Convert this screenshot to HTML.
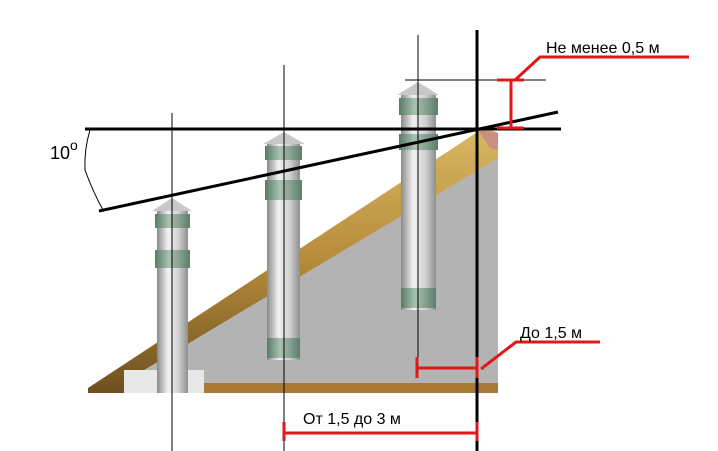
<!DOCTYPE html>
<html><head><meta charset="utf-8"><style>
html,body{margin:0;padding:0;background:#fff;}
svg{display:block;}
text{font-family:"Liberation Sans",sans-serif;fill:#000;}
</style></head><body>
<svg width="718" height="451" viewBox="0 0 718 451" xmlns="http://www.w3.org/2000/svg">
<defs>
<linearGradient id="pipe" x1="0" x2="1" y1="0" y2="0">
<stop offset="0" stop-color="#8a8a8a"/><stop offset="0.35" stop-color="#f2f2f2"/><stop offset="0.7" stop-color="#d0d0d0"/><stop offset="1" stop-color="#8e8e8e"/>
</linearGradient>
<linearGradient id="band" x1="0" x2="1" y1="0" y2="0">
<stop offset="0" stop-color="#5a7a68"/><stop offset="0.4" stop-color="#a9c2b2"/><stop offset="1" stop-color="#5f7d6c"/>
</linearGradient>
<linearGradient id="roof" x1="0" x2="0" y1="0" y2="1">
<stop offset="0" stop-color="#d8b864"/><stop offset="0.5" stop-color="#b78c3a"/><stop offset="1" stop-color="#6e5020"/>
</linearGradient>
</defs>
<polygon points="124,393 124,378 498,150 498,393" fill="#b3b3b3"/>
<polygon points="88,388 485,127 498,133 498,158 124,382 124,393 88,393" fill="url(#roof)"/>
<polygon points="478,130 498,133 498,150 490,148" fill="#c98f80"/>
<rect x="190" y="383" width="308" height="10" fill="#a87a35"/>
<rect x="124" y="370" width="80" height="23" fill="#e8e8e8"/>

<g>
<rect x="157" y="210" width="31" height="183" fill="url(#pipe)"/>
<polygon points="172,198 152,211 192,211" fill="#c8c8c8"/>
<rect x="155" y="214" width="35" height="14" fill="url(#band)"/>
<rect x="155" y="250" width="35" height="18" fill="url(#band)"/>
</g>
<g>
<rect x="267" y="142" width="33" height="218" fill="url(#pipe)"/>
<polygon points="284,132 263,144 305,144" fill="#c8c8c8"/>
<rect x="265" y="146" width="37" height="14" fill="url(#band)"/>
<rect x="265" y="180" width="37" height="20" fill="url(#band)"/>
<rect x="267" y="338" width="33" height="20" fill="url(#band)"/>
</g>
<g>
<rect x="401" y="94" width="35" height="216" fill="url(#pipe)"/>
<polygon points="418,82 397,95 439,95" fill="#c8c8c8"/>
<rect x="399" y="98" width="39" height="17" fill="url(#band)"/>
<rect x="399" y="134" width="39" height="16" fill="url(#band)"/>
<rect x="401" y="288" width="35" height="20" fill="url(#band)"/>
</g>

<line x1="172" y1="113" x2="172" y2="451" stroke="#000" stroke-width="1"/>
<line x1="284" y1="65" x2="284" y2="451" stroke="#000" stroke-width="1"/>
<line x1="418" y1="35" x2="418" y2="368" stroke="#000" stroke-width="1"/>
<line x1="405" y1="80" x2="546" y2="80" stroke="#000" stroke-width="1"/>
<line x1="477" y1="30" x2="477" y2="451" stroke="#000" stroke-width="3"/>
<line x1="85" y1="129" x2="561" y2="129" stroke="#000" stroke-width="3"/>
<line x1="99" y1="211" x2="558" y2="112" stroke="#000" stroke-width="3"/>
<path d="M90,130 Q84,150 85,170 Q93,192 103,210" fill="none" stroke="#000" stroke-width="1"/>
<text x="50" y="159" font-size="18">10</text><text x="70" y="150" font-size="14">o</text>

<g stroke="#e01818" stroke-width="3" fill="none">
<polyline points="689,57 540,57 515,80"/>
<line x1="497" y1="80" x2="524" y2="80"/>
<line x1="497" y1="128" x2="524" y2="128"/>
<line x1="511" y1="80" x2="511" y2="128"/>
<polyline points="600,342 516,342 481,369"/>
<line x1="417" y1="368" x2="477" y2="368"/>
<line x1="417" y1="357" x2="417" y2="378"/>
<line x1="477" y1="357" x2="477" y2="378"/>
<line x1="284" y1="433" x2="477" y2="433"/>
<line x1="284" y1="422" x2="284" y2="441"/>
<line x1="477" y1="422" x2="477" y2="441"/>
</g>
<text x="546" y="53" font-size="16">Не менее 0,5 м</text>
<text x="520" y="338" font-size="16">До 1,5 м</text>
<text x="303" y="424" font-size="16">От 1,5 до 3 м</text>
</svg>
</body></html>
